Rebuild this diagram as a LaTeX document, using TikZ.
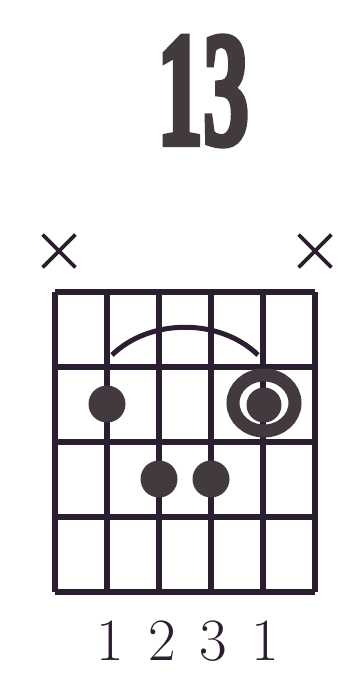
\documentclass[tikz,border=0pt]{standalone}
\usepackage{fontspec}
\newfontfamily\titlefont[BoldFeatures={FakeBold=4}]{Liberation Serif}
\usetikzlibrary{shapes.misc,shapes.geometric}
\definecolor{ink}{RGB}{42,30,48}
\definecolor{dotgray}{RGB}{66,58,62}
\tikzset{
  gridline/.style={draw=ink, line width=5.5pt},
  fingerdot/.style={circle, fill=dotgray, inner sep=0pt, minimum size=37pt},
  rootring/.style={ellipse, draw=dotgray, line width=13pt, inner sep=0pt, minimum width=62pt, minimum height=56pt},
  mutemark/.style={cross out, draw=ink, line width=3.8pt, inner sep=0pt, minimum size=29pt},
  fingernum/.style={font=\fontsize{60}{60}\selectfont, text=ink, inner sep=0pt},
}
\begin{document}
\begin{tikzpicture}[x=1pt,y=-1pt]
    \useasboundingbox (0,0) rectangle (351,691);

    % chord name
    \node[text=dotgray, inner sep=0pt] (title) at (203,91)
        {\scalebox{0.92}[1.62]{\titlefont\bfseries\fontsize{100}{100}\selectfont 13}};

    % muted strings
    \node[mutemark] (xl) at (59,251) {};
    \node[mutemark] (xr) at (315,251) {};

    % frets
    \draw[gridline] (55,292) -- (315,292);
    \draw[gridline] (55,367) -- (315,367);
    \draw[gridline] (55,442) -- (315,442);
    \draw[gridline] (55,517) -- (315,517);
    \draw[gridline] (55,592) -- (315,592);
    % strings
    \draw[gridline] (55,292) -- (55,592);
    \draw[gridline] (107,292) -- (107,592);
    \draw[gridline] (159,292) -- (159,592);
    \draw[gridline] (211,292) -- (211,592);
    \draw[gridline] (263,292) -- (263,592);
    \draw[gridline] (315,292) -- (315,592);

    % barre
    \coordinate (bl) at (112,355);
    \coordinate (br) at (258,355);
    \draw[draw=ink, line width=5pt] (bl) .. controls (150,318) and (220,318) .. (br);

    % fingers
    \node[fingerdot] (d2) at (107,404) {};
    \node[rootring] (r5) at (264,403) {};
    \node[fingerdot, minimum size=35pt] (d5) at (264,405) {};
    \node[fingerdot] (d3) at (159,479) {};
    \node[fingerdot] (d4) at (211,479) {};

    % fingering
    \node[fingernum] (f2) at (110,641) {1};
    \node[fingernum] (f3) at (162,641) {2};
    \node[fingernum] (f4) at (213,641) {3};
    \node[fingernum] (f5) at (265,641) {1};
\end{tikzpicture}
\end{document}
